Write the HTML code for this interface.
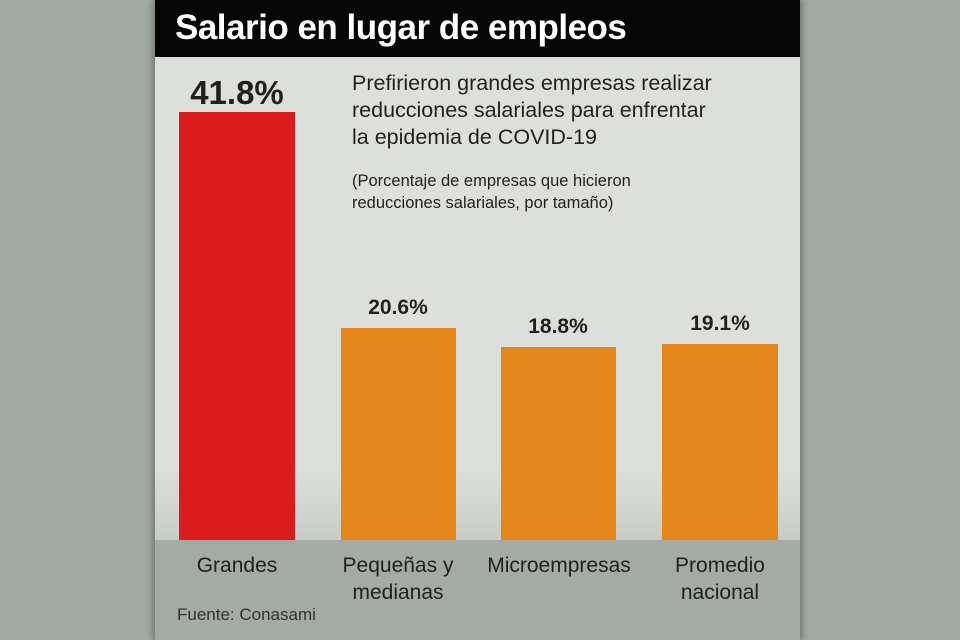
<!DOCTYPE html>
<html><head><meta charset="utf-8"><style>
body{margin:0;width:960px;height:640px;background:#a2aaa3;position:relative;overflow:hidden;font-family:"Liberation Sans",sans-serif;color:#231f1c}
.p{position:absolute}
.bar{position:absolute;bottom:100px}
.v{position:absolute;font-weight:bold;text-align:center;width:160px}
.l{position:absolute;text-align:center;width:170px;font-size:21px;line-height:27px}
</style></head><body>
<div class="p" style="left:155px;top:0;width:645px;height:640px;background:#a3aba4;box-shadow:3px 0 6px rgba(0,0,0,.25),-3px 0 6px rgba(0,0,0,.25)"></div>
<div class="p" style="left:155px;top:57px;width:645px;height:483px;background:linear-gradient(#dddfdc 85%,#c9cbc8)"></div>
<div class="p" style="left:155px;top:0;width:645px;height:57px;background:#050505"></div>
<div class="p" style="left:175px;top:8px;color:#fff;font-size:35px;font-weight:bold;letter-spacing:-0.5px">Salario en lugar de empleos</div>
<div class="p" style="left:352px;top:70px;font-size:21.5px;line-height:27px">Prefirieron grandes empresas realizar<br>reducciones salariales para enfrentar<br>la epidemia de COVID-19</div>
<div class="p" style="left:352px;top:170px;font-size:16.5px;line-height:22px">(Porcentaje de empresas que hicieron<br>reducciones salariales, por tamaño)</div>
<div class="bar" style="left:179px;width:116px;height:428px;background:#db1c1e"></div>
<div class="bar" style="left:341px;width:115px;height:212px;background:#e5861b"></div>
<div class="bar" style="left:501px;width:115px;height:193px;background:#e5861b"></div>
<div class="bar" style="left:662px;width:116px;height:196px;background:#e5861b"></div>
<div class="v" style="left:157px;top:74px;font-size:33px">41.8%</div>
<div class="v" style="left:318px;top:296px;font-size:21px">20.6%</div>
<div class="v" style="left:478px;top:315px;font-size:21px">18.8%</div>
<div class="v" style="left:640px;top:312px;font-size:21px">19.1%</div>
<div class="l" style="left:152px;top:552px">Grandes</div>
<div class="l" style="left:313px;top:552px">Pequeñas y<br>medianas</div>
<div class="l" style="left:474px;top:552px">Microempresas</div>
<div class="l" style="left:635px;top:552px">Promedio<br>nacional</div>
<div class="p" style="left:177px;top:605px;font-size:17px;color:#333">Fuente: Conasami</div>
</body></html>
